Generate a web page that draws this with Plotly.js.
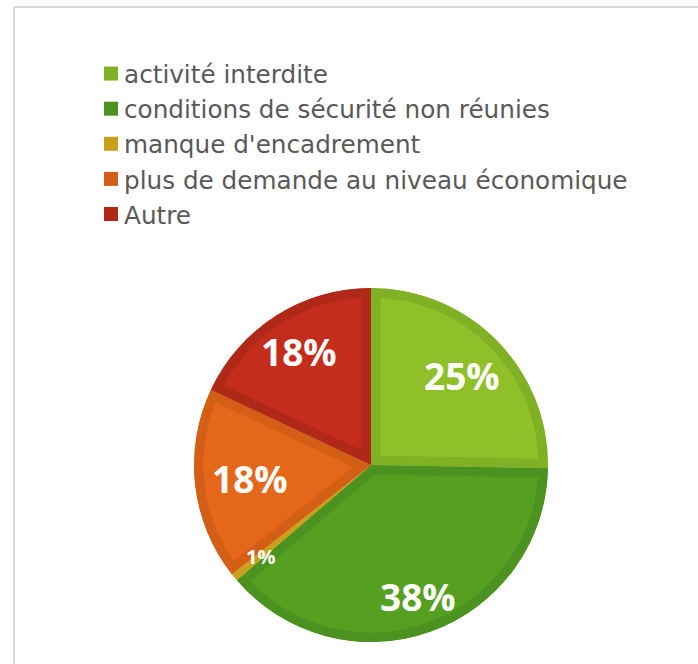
<!DOCTYPE html>
<html>
<head>
<meta charset="utf-8">
<script src="https://cdn.plot.ly/plotly-3.0.1.min.js"></script>
<style>
  html, body { margin: 0; padding: 0; background: #ffffff; }
  #chart { width: 698px; height: 664px; }
</style>
</head>
<body>
<div id="chart"></div>
<script>
// Data
const categories = [
  "activité interdite",
  "conditions de sécurité non réunies",
  "manque d'encadrement",
  "plus de demande au niveau économique",
  "Autre"
];
const shares = [25.3, 38.4, 0.7, 17.6, 18.0];

// Styling
const fillColors   = ["#8fc02a", "#55a021", "#d4aa1e", "#e5681a", "#c42d1b"];
const borderColors = ["#80b024", "#4b9220", "#c9a01c", "#d35f17", "#b02818"];
const labelSizes   = [37, 37, 20, 37, 37];
const labelRadius  = [0.72, 0.79, 0.81, 0.69, 0.76]; // fraction of pie radius

const W = 698, H = 664;
const cx = 371, cy = 465, R = 177;

const data = [{
  type: "pie",
  labels: categories,
  values: shares,
  sort: false,
  direction: "clockwise",
  rotation: 0,
  marker: { colors: fillColors, line: { color: borderColors, width: 19 } },
  textinfo: "none",
  hoverinfo: "none",
  domain: { x: [(cx - R) / W, (cx + R) / W], y: [1 - (cy + R) / H, 1 - (cy - R) / H] }
}];

// percentage labels placed at each slice's mid-angle (computed from the data)
const total = shares.reduce((a, b) => a + b, 0);
let cum = 0;
const annotations = shares.map(function (v, i) {
  const mid = (cum + v / 2) / total * 2 * Math.PI;
  cum += v;
  const r = labelRadius[i] * R;
  return {
    xref: "paper", yref: "paper",
    x: (cx + r * Math.sin(mid)) / W,
    y: 1 - (cy - r * Math.cos(mid)) / H,
    text: Math.round(v / total * 100) + "%",
    showarrow: false, xanchor: "center", yanchor: "middle",
    font: { family: "Open Sans", size: labelSizes[i], color: "#ffffff", weight: "bold" }
  };
});

const layout = {
  width: W, height: H,
  margin: { l: 0, r: 0, t: 0, b: 0 },
  paper_bgcolor: "#ffffff",
  showlegend: true,
  legend: {
    x: 84 / W, y: 1 - 51 / H, xanchor: "left", yanchor: "top",
    font: { family: "DejaVu Sans", size: 24.7, color: "#595959" },
    bgcolor: "rgba(0,0,0,0)", traceorder: "normal"
  },
  annotations: annotations,
  shapes: [
    { type: "line", xref: "paper", yref: "paper", x0: 14 / W, x1: 14 / W, y0: -0.05, y1: 1 - 7 / H, line: { color: "#d9d9d9", width: 2 } },
    { type: "line", xref: "paper", yref: "paper", x0: 14 / W, x1: 1.05, y0: 1 - 7 / H, y1: 1 - 7 / H, line: { color: "#d9d9d9", width: 2 } }
  ]
};

Plotly.newPlot("chart", data, layout, { staticPlot: true, displayModeBar: false }).then(function (gd) {
  const ns = "http://www.w3.org/2000/svg";
  const svg = gd.querySelector("svg.main-svg");
  const defs = svg.querySelector("defs");
  // keep slice borders inside their own slice (inset border)
  gd.querySelectorAll("g.slice path.surface").forEach(function (p, i) {
    const cp = document.createElementNS(ns, "clipPath");
    cp.setAttribute("id", "sliceclip" + i);
    const pp = document.createElementNS(ns, "path");
    pp.setAttribute("d", p.getAttribute("d"));
    cp.appendChild(pp);
    defs.appendChild(cp);
    p.setAttribute("clip-path", "url(#sliceclip" + i + ")");
  });
  // legend squares: solid 14px, no thick stroke, closer to the text
  gd.querySelectorAll(".legendpie").forEach(function (p, i) {
    p.setAttribute("d", "M14,7H0V-7H14Z");
    p.style.strokeWidth = "0px";
    p.style.fill = borderColors[i];
  });
});
</script>
</body>
</html>
